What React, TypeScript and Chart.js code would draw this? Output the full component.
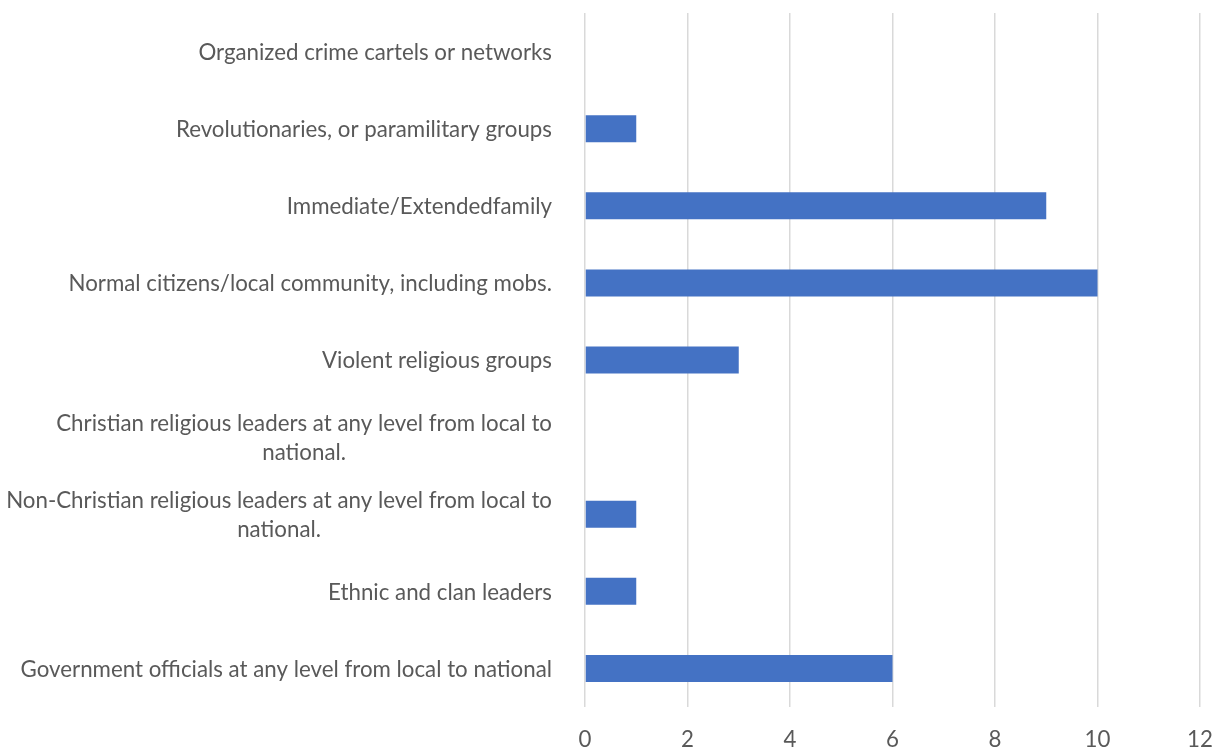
import React, { useEffect, useRef } from "react";
import { Chart, registerables } from "chart.js";

Chart.register(...registerables);

const categories: string[][] = [
  ["Organized crime cartels or networks"],
  ["Revolutionaries, or paramilitary groups"],
  ["Immediate/Extendedfamily"],
  ["Normal citizens/local community, including mobs."],
  ["Violent religious groups"],
  ["Christian religious leaders at any level from local to", "national."],
  ["Non-Christian religious leaders at any level from local to", "national."],
  ["Ethnic and clan leaders"],
  ["Government officials at any level from local to national"],
];
const values: number[] = [0, 1, 9, 10, 3, 0, 1, 1, 6];
const xMin = 0;
const xMax = 12;
const xStep = 2;

const FONT = "Lato";
const FONT_SIZE = 22.3;
const LINE_H = 29;
const TEXT_COLOR = "#595959";

const yLabelPlugin = {
  id: "yLabels",
  afterDraw(chart: any) {
    const ctx = chart.ctx as CanvasRenderingContext2D;
    const y = chart.scales.y;
    ctx.save();
    ctx.font = `${FONT_SIZE}px ${FONT}`;
    ctx.fillStyle = TEXT_COLOR;
    ctx.textBaseline = "middle";
    ctx.textAlign = "center";
    const right = chart.chartArea.left - 33;
    categories.forEach((lines, i) => {
      const cy = y.getPixelForValue(i) + 1;
      const w = Math.max(...lines.map((l) => ctx.measureText(l).width));
      const cx = right - w / 2;
      lines.forEach((l, j) => {
        ctx.fillText(l, cx, cy + (j - (lines.length - 1) / 2) * LINE_H);
      });
    });
    ctx.restore();
  },
};

export default function App() {
  const ref = useRef<HTMLCanvasElement | null>(null);
  useEffect(() => {
    if (!ref.current) return;
    const chart = new Chart(ref.current, {
      type: "bar",
      data: {
        labels: categories.map((c) => c.join(" ")),
        datasets: [
          {
            data: values,
            backgroundColor: "#4472C4",
            borderWidth: 0,
            categoryPercentage: 1,
            barPercentage: 0.35,
          },
        ],
      },
      options: {
        indexAxis: "y",
        animation: false,
        responsive: true,
        maintainAspectRatio: false,
        layout: { padding: { left: 0, top: 13, right: 16, bottom: 0 } },
        plugins: {
          legend: { display: false },
          tooltip: { enabled: false },
        },
        scales: {
          x: {
            min: xMin,
            max: xMax,
            ticks: {
              stepSize: xStep,
              color: TEXT_COLOR,
              font: { family: FONT, size: FONT_SIZE },
              padding: 19,
            },
            grid: { color: "#d9d9d9", lineWidth: 1.5, drawTicks: false },
            border: { display: false },
            afterFit: (s: any) => {
              s.height = 45;
              s.paddingLeft = 0;
              s.paddingRight = 0;
            },
          },
          y: {
            ticks: { display: false },
            grid: { display: false },
            border: { display: false },
            afterFit: (s: any) => {
              s.width = 585;
            },
          },
        },
      },
      plugins: [yLabelPlugin],
    });
    return () => chart.destroy();
  }, []);
  return (
    <div style={{ position: "absolute", left: 0, top: 0, width: 1216, height: 752 }}>
      <canvas ref={ref} />
    </div>
  );
}
